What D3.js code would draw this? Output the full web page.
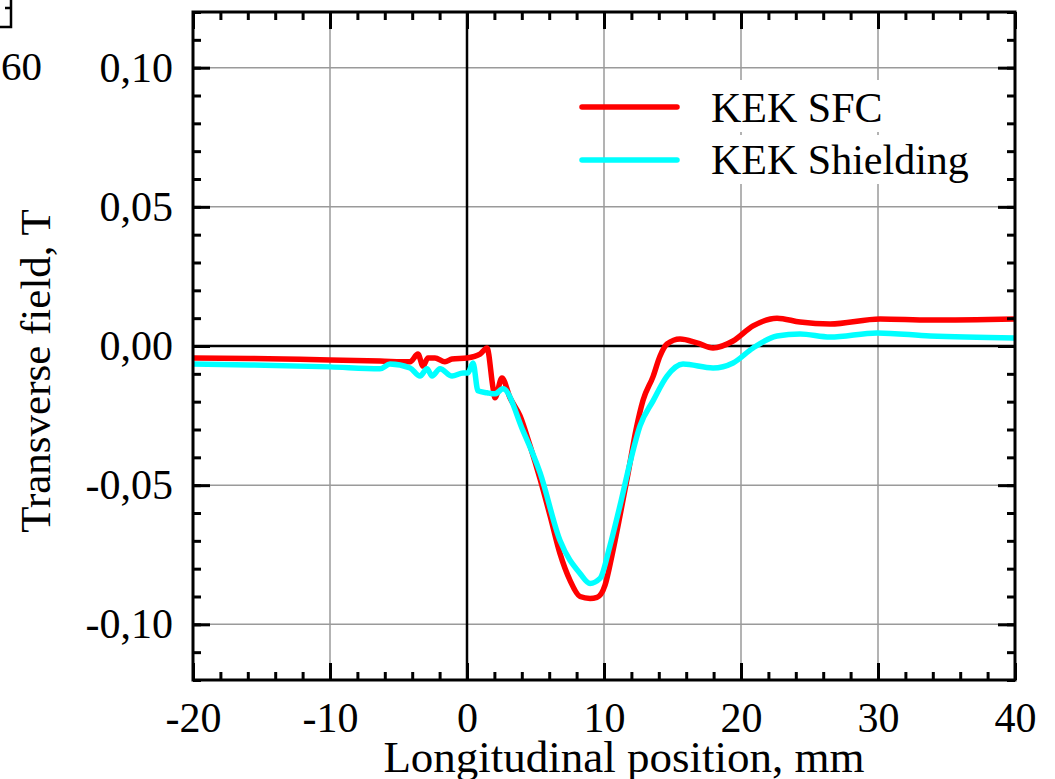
<!DOCTYPE html>
<html>
<head>
<meta charset="utf-8">
<script src="https://cdn.jsdelivr.net/npm/d3@7"></script>
<style>
  html, body { margin: 0; padding: 0; background: #fff; }
  svg { display: block; }
  text { font-family: "Liberation Serif", "DejaVu Serif", serif; fill: #000; }
</style>
</head>
<body>
<svg id="chart" width="1055" height="779"></svg>
<script>
// ---- Data ----
const xDomain = [-20, 40];
const yDomain = [-0.12, 0.12];
const xMajorTicks = [-20, -10, 0, 10, 20, 30, 40];
const xMinorTicks = d3.range(-20, 40.001, 2);
const yMajorTicks = [-0.10, -0.05, 0.00, 0.05, 0.10];
const yMinorTicks = d3.range(-12, 12.001, 1).map(v => v / 100);
const seriesNames = ["KEK SFC", "KEK Shielding"];
const seriesColors = ["#ff0000", "#00ffff"];

// KEK SFC : position (mm), field (T)
const sfcX = [-20.0, -15.84, -12.19, -10.0, -6.35, -4.16, -3.58, -3.21, -2.85, -2.34, -1.61, -1.09, 0.0, 0.95, 1.46, 1.90, 2.04, 2.55, 3.14, 3.87, 4.60, 5.33, 6.06, 6.79, 7.52, 8.25, 8.98, 9.49, 10.07, 10.58, 11.17, 11.75, 12.34, 12.85, 13.58, 14.09, 14.60, 15.55, 16.79, 17.96, 19.42, 20.88, 22.63, 24.31, 26.50, 30.15, 33.80, 40.0];
const sfcY = [-0.0043, -0.0045, -0.0048, -0.0050, -0.0054, -0.0057, -0.0029, -0.0072, -0.0043, -0.0043, -0.0057, -0.0047, -0.0043, -0.0029, -0.0007, -0.0151, -0.0186, -0.0115, -0.0186, -0.0251, -0.0358, -0.0477, -0.0609, -0.0746, -0.0842, -0.0900, -0.0907, -0.0903, -0.0860, -0.0753, -0.0609, -0.0460, -0.0300, -0.0195, -0.0110, -0.0036, 0.0007, 0.0025, 0.0011, -0.0007, 0.0018, 0.0072, 0.0100, 0.0086, 0.0079, 0.0097, 0.0093, 0.0097];

// KEK Shielding : position (mm), field (T)
const shX = [-20.0, -15.84, -10.0, -6.35, -5.62, -4.16, -3.43, -2.92, -2.55, -1.97, -1.09, -0.29, 0.07, 0.44, 0.80, 1.46, 2.04, 2.63, 4.09, 5.33, 6.79, 8.25, 8.98, 9.71, 10.44, 11.17, 11.90, 12.63, 13.58, 14.60, 15.77, 17.96, 19.42, 20.88, 22.63, 24.31, 26.50, 29.93, 33.80, 40.0];
const shY = [-0.0065, -0.0068, -0.0075, -0.0082, -0.0065, -0.0079, -0.0108, -0.0082, -0.0108, -0.0082, -0.0108, -0.0097, -0.0097, -0.0061, -0.0161, -0.0168, -0.0172, -0.0154, -0.0305, -0.0455, -0.0699, -0.0817, -0.0853, -0.0835, -0.0717, -0.0573, -0.0419, -0.0287, -0.0197, -0.0108, -0.0065, -0.0079, -0.0061, -0.0007, 0.0036, 0.0043, 0.0032, 0.0047, 0.0036, 0.0029];

// ---- Layout ----
const svg = d3.select("#chart");
const L = 193, R = 1015, T = 12, B = 680;
const x = d3.scaleLinear().domain(xDomain).range([L, R]);
const y = d3.scaleLinear().domain(yDomain).range([B, T]);

const fmtY = v => { const s = Math.abs(v) < 1e-9 ? "0.00" : v.toFixed(2); return s.replace(".", ","); };
const fmtX = v => String(v);

// Fragment of neighbouring figure at top-left
svg.append("path").attr("d", "M0,27 H11 V0 M5,8 H11").attr("fill", "none").attr("stroke", "#000").attr("stroke-width", 2.5);
svg.append("text").attr("x", 42).attr("y", 80).attr("text-anchor", "end").attr("font-size", 41).text("60");

// Gridlines
const grid = svg.append("g");
grid.selectAll("line.gx").data(xMajorTicks.filter(v => v !== 0 && v !== -20 && v !== 40)).join("line")
  .attr("x1", d => x(d)).attr("x2", d => x(d)).attr("y1", T).attr("y2", B)
  .attr("stroke", "#9a9a9a").attr("stroke-width", 1.5);
grid.selectAll("line.gy").data(yMajorTicks.filter(v => Math.abs(v) > 1e-9)).join("line")
  .attr("x1", L).attr("x2", R).attr("y1", d => y(d)).attr("y2", d => y(d))
  .attr("stroke", "#9a9a9a").attr("stroke-width", 1.5);

// Zero lines
svg.append("line").attr("x1", x(0)).attr("x2", x(0)).attr("y1", T).attr("y2", B).attr("stroke", "#000").attr("stroke-width", 2.5);
svg.append("line").attr("x1", L).attr("x2", R).attr("y1", y(0)).attr("y2", y(0)).attr("stroke", "#000").attr("stroke-width", 2.5);

// Series
const line = d3.line().x(d => x(d[0])).y(d => y(d[1])).curve(d3.curveMonotoneX);
const series = [d3.zip(sfcX, sfcY), d3.zip(shX, shY)];
svg.append("path").datum(series[0]).attr("d", line).attr("fill", "none")
  .attr("stroke", seriesColors[0]).attr("stroke-width", 5.5).attr("stroke-linejoin", "round");
svg.append("path").datum(series[1]).attr("d", line).attr("fill", "none")
  .attr("stroke", seriesColors[1]).attr("stroke-width", 5.5).attr("stroke-linejoin", "round");

// Legend
const leg = svg.append("g");
const legY = [107, 160];
const legBase = [122, 174];
leg.selectAll("rect").data([[80, 132], [135, 184]]).join("rect")
  .attr("x", 705).attr("y", d => d[0]).attr("width", 275).attr("height", d => d[1] - d[0]).attr("fill", "#fff");
seriesNames.forEach((n, i) => {
  leg.append("line").attr("x1", 582).attr("x2", 677).attr("y1", legY[i]).attr("y2", legY[i])
    .attr("stroke", seriesColors[i]).attr("stroke-width", 5.5).attr("stroke-linecap", "round");
  leg.append("text").attr("x", 711).attr("y", legBase[i]).attr("font-size", 42).text(n);
});

// Axes (ticks inward on all four sides)
function styleAxis(g) {
  g.select(".domain").remove();
  g.selectAll(".tick line").attr("stroke", "#000").attr("stroke-width", 3);
  g.selectAll(".tick text").attr("font-family", "Liberation Serif, serif").attr("fill", "#000");
}
const ax = svg.append("g");
ax.append("g").attr("transform", `translate(0,${B})`)
  .call(d3.axisBottom(x).tickValues(xMajorTicks).tickSize(-17).tickPadding(22).tickFormat(fmtX))
  .call(styleAxis).selectAll(".tick text").attr("font-size", 42);
ax.append("g").attr("transform", `translate(0,${B})`)
  .call(d3.axisBottom(x).tickValues(xMinorTicks).tickSize(-8).tickFormat(""))
  .call(styleAxis);
ax.append("g").attr("transform", `translate(0,${T})`)
  .call(d3.axisTop(x).tickValues(xMajorTicks).tickSize(-17).tickFormat(""))
  .call(styleAxis);
ax.append("g").attr("transform", `translate(0,${T})`)
  .call(d3.axisTop(x).tickValues(xMinorTicks).tickSize(-8).tickFormat(""))
  .call(styleAxis);
ax.append("g").attr("transform", `translate(${L},0)`)
  .call(d3.axisLeft(y).tickValues(yMajorTicks).tickSize(-17).tickPadding(20).tickFormat(fmtY))
  .call(styleAxis).selectAll(".tick text").attr("font-size", 42);
ax.append("g").attr("transform", `translate(${L},0)`)
  .call(d3.axisLeft(y).tickValues(yMinorTicks).tickSize(-8).tickFormat(""))
  .call(styleAxis);
ax.append("g").attr("transform", `translate(${R},0)`)
  .call(d3.axisRight(y).tickValues(yMajorTicks).tickSize(-17).tickFormat(""))
  .call(styleAxis);
ax.append("g").attr("transform", `translate(${R},0)`)
  .call(d3.axisRight(y).tickValues(yMinorTicks).tickSize(-8).tickFormat(""))
  .call(styleAxis);

// Frame
svg.append("rect").attr("x", L).attr("y", T).attr("width", R - L).attr("height", B - T)
  .attr("fill", "none").attr("stroke", "#000").attr("stroke-width", 3);

// Axis titles
svg.append("text").attr("x", 624).attr("y", 772).attr("text-anchor", "middle").attr("font-size", 45)
  .text("Longitudinal position, mm");
svg.append("text").attr("transform", "translate(50,371) rotate(-90)").attr("text-anchor", "middle").attr("font-size", 43)
  .text("Transverse field, T");
</script>
</body>
</html>
